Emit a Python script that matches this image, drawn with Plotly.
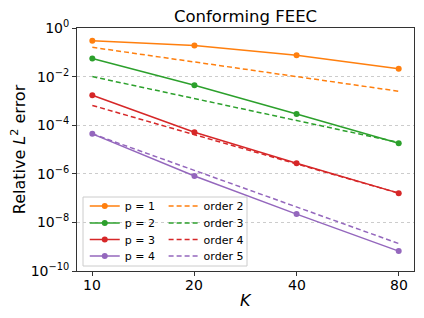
import math
import plotly.graph_objects as go

K = [10, 20, 40, 80]
err_p1 = [0.30, 0.19, 0.075, 0.021]
err_p2 = [0.056, 0.0044, 2.9e-4, 1.8e-5]
err_p3 = [1.7e-3, 5.1e-5, 2.7e-6, 1.6e-7]
err_p4 = [4.4e-5, 8.1e-7, 2.2e-8, 6.6e-10]
ord2 = [0.16, 0.04, 0.01, 0.0025]
ord3 = [1.0e-2, 1.25e-3, 1.56e-4, 1.95e-5]
ord4 = [6.5e-4, 4.1e-5, 2.5e-6, 1.6e-7]
ord5 = [4.4e-5, 1.4e-6, 4.3e-8, 1.35e-9]

solid_names = ["p = 1", "p = 2", "p = 3", "p = 4"]
dash_names = ["order 2", "order 3", "order 4", "order 5"]
colors = ["#ff7f0e", "#2ca02c", "#d62728", "#9467bd"]

xtick_vals = [10, 20, 40, 80]
xtick_text = ["10", "20", "40", "80"]
ytick_vals = [1, 1e-2, 1e-4, 1e-6, 1e-8, 1e-10]
ytick_text = ["10<sup>0</sup>", "10<sup>−2</sup>", "10<sup>−4</sup>",
              "10<sup>−6</sup>", "10<sup>−8</sup>", "10<sup>−10</sup>"]

# page offset of the browser's default body margin (8px)
OFF = 8
W, H = 424 - OFF, 318 - OFF
ML, MR, MT, MB = 77 - OFF, 10, 28 - OFF, 47
PW = W - ML - MR
PH = H - MT - MB

fig = go.Figure()
row_y = [206, 223, 239.5, 256]  # screen rows of legend entries
legend_layout = {}
for i, (name, ys, c) in enumerate(zip(solid_names, [err_p1, err_p2, err_p3, err_p4], colors)):
    lname = "legend" if i == 0 else f"legend{i + 1}"
    fig.add_trace(go.Scatter(x=K, y=ys, name=name, mode="lines+markers",
                             line=dict(color=c, width=1.5),
                             marker=dict(color=c, size=6), legend=lname,
                             showlegend=True))
    legend_layout[lname] = dict(x=0.023, y=(271 - row_y[i]) / PH,
                                xanchor="left", yanchor="middle",
                                font=dict(size=11), bgcolor="rgba(0,0,0,0)",
                                itemwidth=30, visible=True)
for i, (name, ys, c) in enumerate(zip(dash_names, [ord2, ord3, ord4, ord5], colors)):
    lname = f"legend{i + 5}"
    fig.add_trace(go.Scatter(x=K, y=ys, name=name, mode="lines",
                             line=dict(color=c, width=1.5, dash="5px,3px"),
                             legend=lname, showlegend=True))
    legend_layout[lname] = dict(x=0.257, y=(271 - row_y[i]) / PH,
                                xanchor="left", yanchor="middle",
                                font=dict(size=11), bgcolor="rgba(0,0,0,0)",
                                itemwidth=30, visible=True)

font = "DejaVu Sans"
annotations = [dict(x=math.log10(v), y=0, xref="x", yref="paper", text=t,
                    showarrow=False, xanchor="center", yanchor="top", yshift=-4,
                    font=dict(size=14))
               for v, t in zip(xtick_vals, xtick_text)]
annotations.append(dict(x=0.5, y=-(300 - 271) / PH, xref="paper", yref="paper",
                        text="<i>K</i>", showarrow=False, xanchor="center",
                        yanchor="middle", font=dict(size=16)))

fig.update_layout(
    width=W, height=H,
    showlegend=True,
    margin=dict(l=ML, r=MR, t=MT, b=MB),
    paper_bgcolor="white", plot_bgcolor="white",
    font=dict(family=font, color="black", size=14),
    title=dict(text="Conforming FEEC", x=(ML + PW / 2) / W, xanchor="center",
               y=1 - (16 - OFF) / H, yanchor="middle", font=dict(size=16.5)),
    shapes=[dict(type="rect", xref="paper", yref="paper",
                 x0=(83 - 77) / PW, x1=(247 - 77) / PW,
                 y0=(271 - 266) / PH, y1=(271 - 197) / PH,
                 line=dict(color="#cccccc", width=1),
                 fillcolor="rgba(255,255,255,0.8)", layer="below")],
    annotations=annotations,
    **legend_layout,
)
fig.update_xaxes(type="log", range=[0.9548, 1.9482],
                 tickvals=xtick_vals, showticklabels=False,
                 ticks="outside", ticklen=4, tickcolor="#333",
                 showline=True, linecolor="#333", linewidth=1, mirror=True,
                 showgrid=False, zeroline=False)
fig.update_yaxes(type="log", range=[-10, 0],
                 tickvals=ytick_vals, ticktext=ytick_text,
                 ticks="outside", ticklen=4, tickcolor="#333",
                 showline=True, linecolor="#333", linewidth=1, mirror=True,
                 showgrid=True, gridcolor="#cccccc", griddash="dot", gridwidth=0.6,
                 zeroline=False,
                 title=dict(text="Relative <i>L</i><sup>2</sup> error", standoff=1,
                            font=dict(size=16)))

fig.write_html("out.html")
